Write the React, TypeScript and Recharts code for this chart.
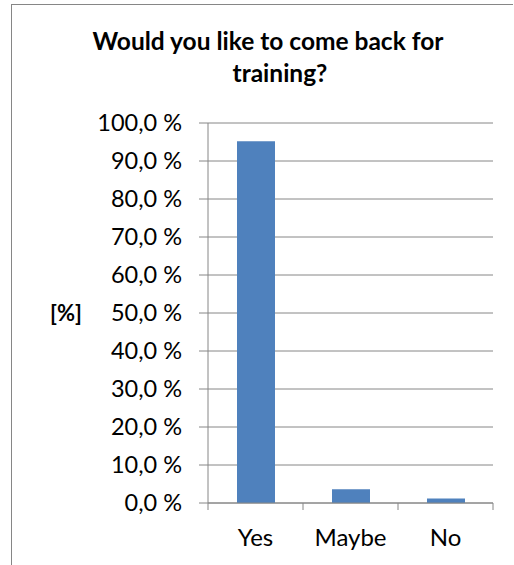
import React from "react";
import { BarChart, Bar, XAxis, YAxis, CartesianGrid } from "recharts";

const categories = ["Yes", "Maybe", "No"];
const values = [95.2, 3.6, 1.2];
const yTicks = [0, 10, 20, 30, 40, 50, 60, 70, 80, 90, 100];
const titleLines = ["Would you like to come back for", "training?"];
const yAxisTitle = "[%]";

const data = categories.map((c, i) => ({ name: c, value: values[i] }));

const W = 514;
const H = 565;
const PLOT_LEFT = 208;
const PLOT_RIGHT = 493;
const PLOT_TOP = 123;
const PLOT_BOTTOM = 503;
const Y_AXIS_W = 120;
const X_AXIS_H = 40;
const GRAY = "#868686";
const FONT = "Lato, 'Open Sans', sans-serif";
const BAND = (PLOT_RIGHT - PLOT_LEFT) / categories.length;
const X_TICK_SIZE = 7;
const X_TICK_MARGIN = 2;

const fmt = (v: number) => v.toFixed(1).replace(".", ",") + " %";

function XTick(props: any) {
  const { x, y, payload, index } = props;
  const axisY = y - X_TICK_SIZE - X_TICK_MARGIN;
  const last = index === categories.length - 1;
  return (
    <g>
      <line x1={x - BAND / 2} x2={x - BAND / 2} y1={axisY} y2={axisY + X_TICK_SIZE} stroke={GRAY} />
      {last && (
        <line x1={x + BAND / 2} x2={x + BAND / 2} y1={axisY} y2={axisY + X_TICK_SIZE} stroke={GRAY} />
      )}
      <text x={x} y={axisY + 43} textAnchor="middle" fontSize={24} fontFamily={FONT} fill="#000">
        {payload.value}
      </text>
    </g>
  );
}

export default function App() {
  return (
    <div style={{ position: "relative", width: W, height: H }}>
      <style>{`body{margin:0}`}</style>
      <svg width={W} height={H} style={{ position: "absolute", left: 0, top: 0 }}>
        <line x1={11.5} x2={11.5} y1={4} y2={H} stroke={GRAY} />
        <line x1={11} x2={513} y1={4.5} y2={4.5} stroke={GRAY} />
        <text x={268} y={50} textAnchor="middle" fontSize={24.5} fontWeight="bold" fontFamily={FONT} fill="#000">
          {titleLines[0]}
        </text>
        <text x={280} y={82} textAnchor="middle" fontSize={24.5} fontWeight="bold" fontFamily={FONT} fill="#000">
          {titleLines[1]}
        </text>
        <text x={66} y={313} dy="0.355em" textAnchor="middle" fontSize={22} fontWeight="bold" fontFamily={FONT} fill="#000">
          {yAxisTitle}
        </text>
      </svg>
      <div style={{ position: "absolute", left: 0, top: 0 }}>
        <BarChart
          width={W}
          height={H}
          data={data}
          margin={{
            top: PLOT_TOP,
            right: W - PLOT_RIGHT,
            bottom: H - PLOT_BOTTOM - X_AXIS_H,
            left: PLOT_LEFT - Y_AXIS_W,
          }}
        >
          <CartesianGrid vertical={false} stroke={GRAY} strokeDasharray="" />
          <XAxis
            dataKey="name"
            height={X_AXIS_H}
            axisLine={{ stroke: GRAY }}
            tickLine={false}
            tickSize={X_TICK_SIZE}
            tickMargin={X_TICK_MARGIN}
            tick={<XTick />}
            interval={0}
          />
          <YAxis
            width={Y_AXIS_W}
            domain={[0, 100]}
            ticks={yTicks}
            tickFormatter={fmt}
            axisLine={{ stroke: GRAY }}
            tickLine={{ stroke: GRAY }}
            tickSize={9}
            tickMargin={17}
            tick={{ fill: "#000", fontSize: 23.5, fontFamily: FONT }}
            interval={0}
          />
          <Bar dataKey="value" fill="#4F81BD" barSize={38} isAnimationActive={false} />
        </BarChart>
      </div>
    </div>
  );
}
